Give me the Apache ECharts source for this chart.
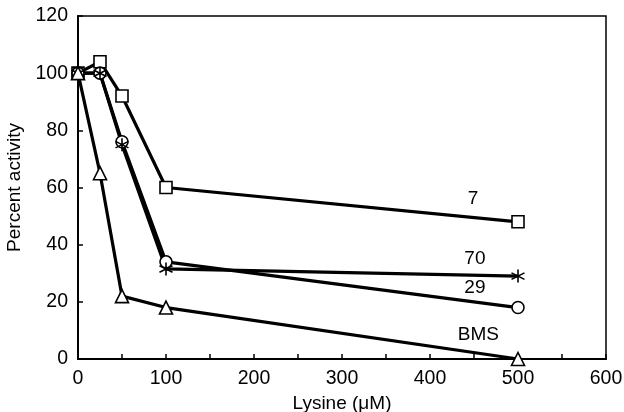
<!DOCTYPE html>
<html><head><meta charset="utf-8">
<script src="https://cdn.jsdelivr.net/npm/echarts@6/dist/echarts.min.js"></script>
<style>html,body{margin:0;padding:0;background:#fff}#c{width:624px;height:412px}</style>
</head><body><div id="c"></div>
<script>
const lysine = [0, 25, 50, 100, 500];
const s7 = [100, 104, 92, 60, 48];
const s29 = [100, 100, 76, 34, 18];
const s70 = [100, 100, 75, 31.5, 29];
const sBMS = [100, 65, 22, 18, 0];
const seriesNames = ['7', '29', '70', 'BMS'];
const labelX = [449, 451, 451, 455];
const labelY = [56, 24.8, 35, 8.5];
const xTicks = [0, 100, 200, 300, 400, 500, 600];
const yTicks = [0, 20, 40, 60, 80, 100, 120];

const font = 'Liberation Sans, Arial, Helvetica, sans-serif';
function pts(ys){ return lysine.map((x,i)=>[x, ys[i]]); }
function mk(name, ys, symbol, fill, size){
  return {
    name, type:'line', data: pts(ys), symbol, symbolSize: size,
    showAllSymbol: true,
    lineStyle:{color:'#000', width:3.2},
    itemStyle:{color: fill, borderColor:'#000', borderWidth:1.6},
    z: 3
  };
}
const chart = echarts.init(document.getElementById('c'), null, {renderer:'canvas'});
chart.setOption({
  animation:false,
  backgroundColor:'#fff',
  grid:{left:78, right:18, top:16, bottom:53, containLabel:false, outerBoundsMode:'none',
    show:true, borderColor:'#000', borderWidth:1.5, backgroundColor:'transparent'},
  xAxis:{
    type:'value', min:0, max:600, interval:50,
    name:'Lysine (\u03bcM)', nameLocation:'middle', nameGap:35,
    nameTextStyle:{fontFamily:font, fontSize:19, color:'#000'},
    axisLine:{lineStyle:{color:'#000', width:2}},
    axisTick:{inside:true, length:5, lineStyle:{color:'#000', width:1.5}},
    axisLabel:{fontFamily:font, fontSize:19.5, color:'#000', margin:10,
      formatter: v => xTicks.includes(v) ? String(v) : ''},
    splitLine:{show:false}
  },
  yAxis:{
    type:'value', min:0, max:120, interval:20,
    name:'Percent activity', nameLocation:'middle', nameGap:46,
    nameTextStyle:{fontFamily:font, fontSize:19, color:'#000'},
    axisLine:{lineStyle:{color:'#000', width:2}},
    axisTick:{inside:true, length:5, lineStyle:{color:'#000', width:1.5}},
    axisLabel:{fontFamily:font, fontSize:19.5, color:'#000', margin:10,
      formatter: v => yTicks.includes(v) ? String(v) : ''},
    splitLine:{show:false}
  },
  series:[
    mk('7', s7, 'rect', '#fff', 12),
    mk('29', s29, 'circle', '#fff', 12),
    mk('70', s70, 'path://M0,-10L0,10M-9,-5L9,5M-9,5L9,-5', '#000', 13),
    mk('BMS', sBMS, 'triangle', '#fff', 13),
    {
      type:'scatter', symbol:'circle', symbolSize:0, z:5, silent:true,
      itemStyle:{color:'#fff', opacity:1},
      data: seriesNames.map((n,i)=>({value:[labelX[i], labelY[i]], name:n})),
      label:{show:true, position:[0,0], align:'center', verticalAlign:'middle',
        formatter: p => p.name,
        fontFamily:font, fontSize:19, color:'#000', opacity:1}
    }
  ]
});
</script></body></html>
